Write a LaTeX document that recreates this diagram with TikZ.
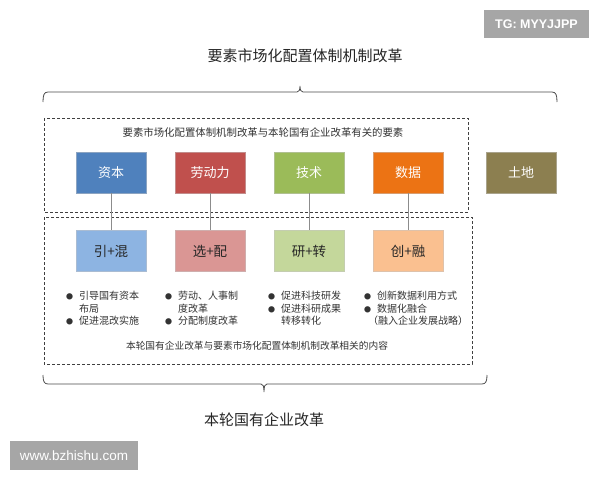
\documentclass[tikz,border=0pt]{standalone}
\usepackage{fontspec}
\setmainfont{Noto Sans CJK SC}
\newfontfamily\latinsans{Liberation Sans}
\begin{document}
\begin{tikzpicture}[x=1pt,y=-1pt,
  box/.style={minimum width=70pt,minimum height=41pt,inner sep=0pt,draw=#1!80!black!60!white,line width=0.6pt,fill=#1},
  topbox/.style={box=#1,text=white,font=\fontsize{13}{13}\selectfont},
  lowbox/.style={box=#1,text=black!85,font=\fontsize{13.5}{13.5}\selectfont},
  dbox/.style={draw=black!75,dashed,dash pattern=on 3pt off 2pt,line width=0.7pt},
  conn/.style={draw=black!45,line width=0.8pt},
  brc/.style={draw=black!70,line width=0.8pt},
  small/.style={font=\fontsize{9.7}{9.7}\selectfont,text=black!80,inner sep=0pt},
  bul/.style={font=\fontsize{10}{12.5}\selectfont,text=black!80,inner sep=0pt,anchor=north west,align=left},
  wm/.style={fill=black!35,text=white,inner sep=0pt,font=\latinsans\bfseries\fontsize{12.5}{12.5}\selectfont}
]
\definecolor{cblue}{HTML}{4F81BD}
\definecolor{cred}{HTML}{C0504D}
\definecolor{cgreen}{HTML}{9BBB59}
\definecolor{corange}{HTML}{EC7314}
\definecolor{colive}{HTML}{8C7F50}
\definecolor{lblue}{HTML}{8DB4E2}
\definecolor{lred}{HTML}{DA9694}
\definecolor{lgreen}{HTML}{C4D79B}
\definecolor{lorange}{HTML}{FAC090}
\useasboundingbox[fill=white] (0,0) rectangle (600,480);

% watermarks
\node[wm,minimum width=105pt,minimum height=28pt] (tg) at (536.5,24) {TG: MYYJJPP};
\node[wm,minimum width=128pt,minimum height=29pt,font=\latinsans\fontsize{13.5}{13.5}\selectfont] (www) at (74,455.5) {www.bzhishu.com};

% titles
\node[font=\fontsize{15}{15}\selectfont,inner sep=0pt,text=black!85] (title) at (305,56) {要素市场化配置体制机制改革};
\node[font=\fontsize{15}{15}\selectfont,inner sep=0pt,text=black!85] (btitle) at (264,420) {本轮国有企业改革};

% braces
\draw[brc] (43,102) .. controls (43,95) and (44,92) .. (48,92) -- (297,92) .. controls (299,92) and (300,90) .. (300,86)
  .. controls (300,90) and (301,92) .. (303,92) -- (552,92) .. controls (556,92) and (557,95) .. (557,102);
\draw[brc] (43,375) .. controls (43,381) and (44,384) .. (48,384) -- (261,384) .. controls (263,384) and (264,386) .. (264,392)
  .. controls (264,386) and (265,384) .. (267,384) -- (482,384) .. controls (486,384) and (487,381) .. (487,375);

% dashed boxes
\draw[dbox] (44,118) rectangle (468,212);
\draw[dbox] (44,217) rectangle (472,364);
\node[small,font=\fontsize{10.4}{10.4}\selectfont] (uptxt) at (263,133) {要素市场化配置体制机制改革与本轮国有企业改革有关的要素};
\node[small] (lowtxt) at (257,346) {本轮国有企业改革与要素市场化配置体制机制改革相关的内容};

% top boxes
\node[topbox=cblue] (zb) at (111,172.5) {资本};
\node[topbox=cred] (ldl) at (210,172.5) {劳动力};
\node[topbox=cgreen] (js) at (309,172.5) {技术};
\node[topbox=corange] (sj) at (408,172.5) {数据};
\node[topbox=colive] (td) at (521,172.5) {土地};

% lower boxes
\node[lowbox=lblue] (yh) at (111,251) {引+混};
\node[lowbox=lred] (xp) at (210,251) {选+配};
\node[lowbox=lgreen] (yz) at (309,251) {研+转};
\node[lowbox=lorange] (cr) at (408,251) {创+融};

% connectors
\draw[conn] (zb) -- (yh);
\draw[conn] (ldl) -- (xp);
\draw[conn] (js) -- (yz);
\draw[conn] (sj) -- (cr);

% bullets
\newcommand{\bl}{\makebox[13pt][l]{\fontsize{7}{7}\selectfont ●}}
\newcommand{\ind}{\hspace*{13pt}}
\node[bul] (b1) at (66,291) {\bl 引导国有资本\\\ind 布局\\\bl 促进混改实施};
\node[bul] (b2) at (165,291) {\bl 劳动、人事制\\\ind 度改革\\\bl 分配制度改革};
\node[bul] (b3) at (268,291) {\bl 促进科技研发\\\bl 促进科研成果\\\ind 转移转化};
\node[bul] (b4) at (364,291) {\bl 创新数据利用方式\\\bl 数据化融合\\\hspace*{4pt}（融入企业发展战略）};
\end{tikzpicture}
\end{document}
